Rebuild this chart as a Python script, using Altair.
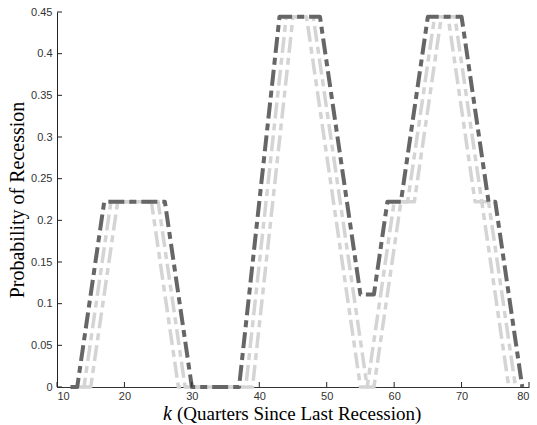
import altair as alt
import pandas as pd

# Recession probability by quarters since the last recession, three series
k_dark = [12, 13, 17, 26, 30, 37, 43, 49, 55, 57, 59, 61, 65, 70, 74, 75, 79]
p_dark = [0, 0, 0.2222, 0.2222, 0, 0, 0.4444, 0.4444, 0.1111, 0.1111,
          0.2222, 0.2222, 0.4444, 0.4444, 0.2222, 0.2222, 0]

k_light_a = [13, 14, 18, 24, 28, 38, 44, 47, 55, 56, 60, 62, 66, 68, 72, 73, 77]
p_light_a = [0, 0, 0.2222, 0.2222, 0, 0, 0.4444, 0.4444, 0, 0,
             0.2222, 0.2222, 0.4444, 0.4444, 0.2222, 0.2222, 0]

k_light_b = [14, 15, 19, 25, 29, 39, 45, 48, 56, 57, 61, 63, 67, 69, 73, 74, 78]
p_light_b = [0, 0, 0.2222, 0.2222, 0, 0, 0.4444, 0.4444, 0, 0,
             0.2222, 0.2222, 0.4444, 0.4444, 0.2222, 0.2222, 0]

x_ticks = [10, 20, 30, 40, 50, 60, 70, 80]
y_ticks = [0, 0.05, 0.1, 0.15, 0.2, 0.25, 0.3, 0.35, 0.4, 0.45]

x_title_var = "k"
x_title_rest = "(Quarters Since Last Recession)"
y_title = "Probability of Recession"

W, H = 472, 375
DARK = "#666666"
LIGHT = "#d4d4d4"
DASH = [16, 5, 7, 5]

x_scale = alt.Scale(domain=[10, 80], nice=False, zero=False)
y_scale = alt.Scale(domain=[0, 0.45], nice=False, zero=False)

x_axis = alt.Axis(values=x_ticks, ticks=False, grid=False, title=None,
                  labelFont="Liberation Sans", labelFontSize=11, labelColor="#333333",
                  labelPadding=3, domainColor="#333333", domainWidth=1)
y_axis = alt.Axis(values=y_ticks, format="~g", ticks=False, grid=False,
                  title=y_title, titleFont="Liberation Serif", titleFontSize=20,
                  titleFontWeight="normal", titleColor="#000000",
                  titleX=-40, titleY=H / 2, titleAlign="center", titleBaseline="middle",
                  labelFont="Liberation Sans", labelFontSize=11, labelColor="#333333",
                  labelPadding=5, domainColor="#222222", domainWidth=1)


def series_line(ks, ps, color, width):
    df = pd.DataFrame({"k": ks, "p": ps})
    return alt.Chart(df).mark_line(
        color=color, strokeWidth=width, strokeDash=DASH,
        strokeCap="butt", strokeJoin="round"
    ).encode(
        x=alt.X("k:Q", scale=x_scale, axis=x_axis),
        y=alt.Y("p:Q", scale=y_scale, axis=y_axis),
    )


light_a = series_line(k_light_a, p_light_a, LIGHT, 3.5)
light_b = series_line(k_light_b, p_light_b, LIGHT, 3.5)
dark = series_line(k_dark, p_dark, DARK, 4)

# inward-pointing tick marks
y_tick_marks = alt.Chart(pd.DataFrame({"p": y_ticks})).mark_rule(
    color="#222222", strokeWidth=1
).encode(y=alt.Y("p:Q", scale=y_scale, axis=y_axis), x=alt.value(0), x2=alt.value(5))

x_tick_marks = alt.Chart(pd.DataFrame({"k": x_ticks})).mark_rule(
    color="#222222", strokeWidth=1
).encode(x=alt.X("k:Q", scale=x_scale, axis=x_axis), y=alt.value(H), y2=alt.value(H - 5))

# x-axis title with an italic variable name
title_var = alt.Chart(pd.DataFrame({"t": [x_title_var]})).mark_text(
    font="Liberation Serif", fontStyle="italic", fontSize=20, align="right",
    baseline="alphabetic", color="#000000"
).encode(text="t:N", x=alt.value(115), y=alt.value(408))

title_rest = alt.Chart(pd.DataFrame({"t": [x_title_rest]})).mark_text(
    font="Liberation Serif", fontSize=19, align="left",
    baseline="alphabetic", color="#000000"
).encode(text="t:N", x=alt.value(120), y=alt.value(408))

chart = alt.layer(
    light_b, light_a, dark, y_tick_marks, x_tick_marks, title_var, title_rest
).properties(
    width=W, height=H,
    padding={"left": 57, "top": 12, "right": 8, "bottom": 38},
    autosize="none",
).configure_view(stroke=None)

chart.save("out.html", embed_options={"renderer": "svg", "actions": False})
